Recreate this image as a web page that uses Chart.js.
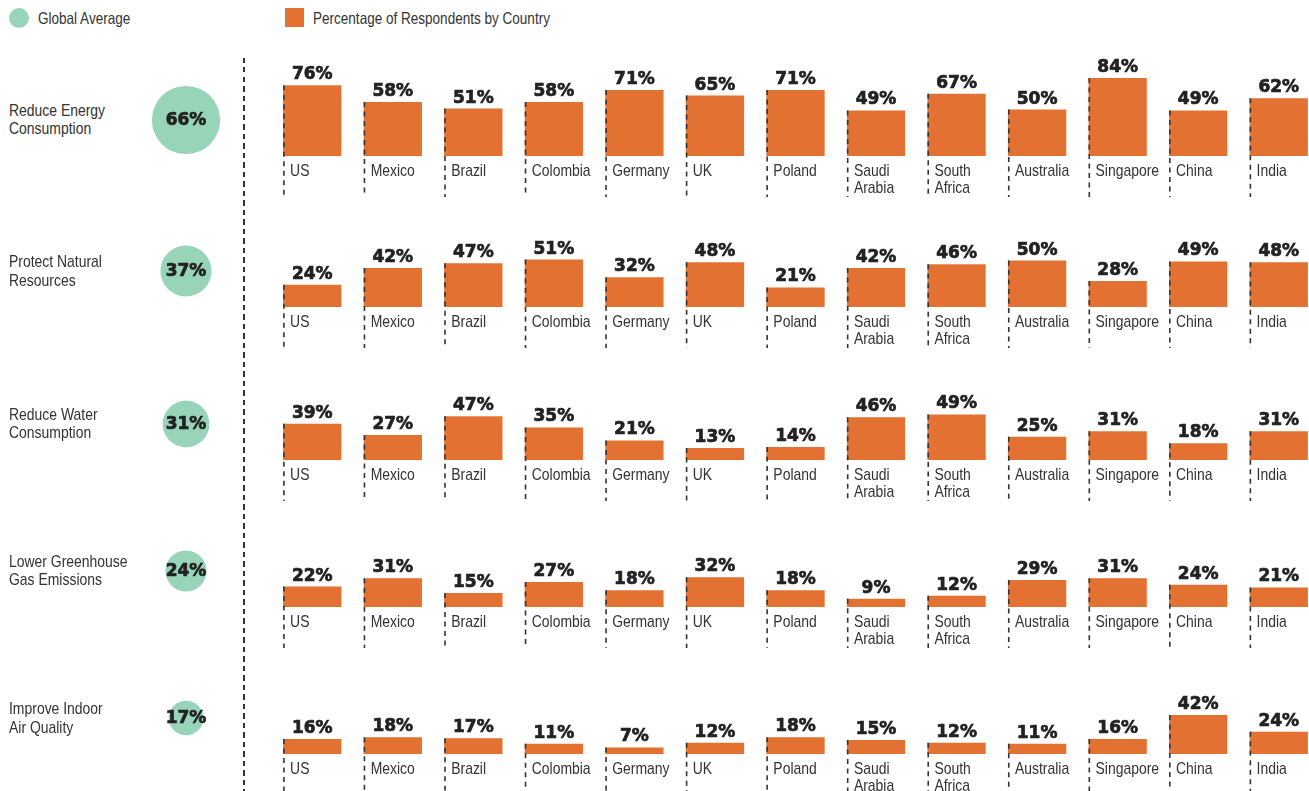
<!DOCTYPE html>
<html>
<head>
<meta charset="utf-8">
<script src="https://cdn.jsdelivr.net/npm/chart.js@4.4.1/dist/chart.umd.min.js"></script>
<style>
  html, body { margin: 0; padding: 0; background: #fff; overflow: hidden; }
  body {
    width: 1309px; height: 791px; position: relative;
    font-family: "Liberation Sans", Arial, sans-serif;
    color: #333;
  }
  .narrow { display: inline-block; transform: scaleX(0.82); transform-origin: 0 0; white-space: nowrap; }
  .legend-item { position: absolute; top: 8px; font-size: 16.5px; line-height: 20px; }
  .legend-dot { position: absolute; left: 9px; top: 8px; width: 20px; height: 20px; border-radius: 50%; background: #98d4b8; }
  .legend-box { position: absolute; left: 285px; top: 8px; width: 19px; height: 19px; background: #e37232; }
  .divider {
    position: absolute; left: 243px; top: 58px; width: 2px; height: 740px;
    background: repeating-linear-gradient(to bottom, #333 0 5px, transparent 5px 9.5px);
  }
  .row { position: absolute; left: 0; width: 1309px; height: 155px; }
  .row-label { position: absolute; left: 9px; top: 56px; font-size: 17px; line-height: 18.5px; }
  .row canvas { position: absolute; }
</style>
</head>
<body>
<div class="legend-dot"></div>
<div class="legend-item" style="left:38px"><span class="narrow">Global Average</span></div>
<div class="legend-box"></div>
<div class="legend-item" style="left:313px"><span class="narrow">Percentage of Respondents by Country</span></div>
<div class="divider"></div>
<div id="rows"></div>

<script>
const countries = ["US", "Mexico", "Brazil", "Colombia", "Germany", "UK", "Poland",
  ["Saudi", "Arabia"], ["South", "Africa"], "Australia", "Singapore", "China", "India"];

const goals = [
  ["Reduce Energy", "Consumption"],
  ["Protect Natural", "Resources"],
  ["Reduce Water", "Consumption"],
  ["Lower Greenhouse", "Gas Emissions"],
  ["Improve Indoor", "Air Quality"]
];

const globalAverage = [66, 37, 31, 24, 17];

const energy     = [76, 58, 51, 58, 71, 65, 71, 49, 67, 50, 84, 49, 62];
const resources  = [24, 42, 47, 51, 32, 48, 21, 42, 46, 50, 28, 49, 48];
const water      = [39, 27, 47, 35, 21, 13, 14, 46, 49, 25, 31, 18, 31];
const greenhouse = [22, 31, 15, 27, 18, 32, 18, 9, 12, 29, 31, 24, 21];
const indoor     = [16, 18, 17, 11, 7, 12, 18, 15, 12, 11, 16, 42, 24];

const rowValues = [energy, resources, water, greenhouse, indoor];

// layout
const baselines = [155.7, 307.3, 459.5, 606.5, 754.3];
const ORANGE = "#e37232";
const GREEN = "#98d4b8";
const TEXT = "#333";
const VALUE_FONT = "bold 17px 'DejaVu Sans', sans-serif";
const LABEL_FONT = "17px 'Liberation Sans', Arial, sans-serif";
const NARROW = 0.82;
const AREA_H = 110;
const PX_PER_PCT = 0.93;

function heavyText(ctx, text, x, y) {
  ctx.lineWidth = 0.7;
  ctx.strokeStyle = "#222";
  ctx.strokeText(text, x, y);
  ctx.fillText(text, x, y);
}

const barDecor = {
  id: "barDecor",
  afterDatasetsDraw(chart) {
    const ctx = chart.ctx;
    const meta = chart.getDatasetMeta(0);
    const values = chart.data.datasets[0].data;

    meta.data.forEach((bar, i) => {
      const p = bar.getProps(["x", "y", "base", "width"], true);
      const left = p.x - p.width / 2;

      ctx.save();
      ctx.strokeStyle = TEXT;
      ctx.lineWidth = 1.6;
      ctx.setLineDash([5, 4.5]);
      ctx.beginPath();
      ctx.moveTo(left + 0.8, p.y);
      ctx.lineTo(left + 0.8, p.base + 41);
      ctx.stroke();
      ctx.setLineDash([]);

      ctx.fillStyle = "#222";
      ctx.font = VALUE_FONT;
      ctx.textAlign = "center";
      ctx.textBaseline = "alphabetic";
      heavyText(ctx, values[i] + "%", p.x, p.y - 6);

      ctx.fillStyle = TEXT;
      ctx.font = LABEL_FONT;
      ctx.textAlign = "left";
      const lines = [].concat(chart.data.labels[i]);
      lines.forEach((line, k) => {
        ctx.save();
        ctx.translate(left + 7, p.base + 20 + k * 16.5);
        ctx.scale(NARROW, 1);
        ctx.fillText(line, 0, 0);
        ctx.restore();
      });
      ctx.restore();
    });
  }
};

const bubbleText = {
  id: "bubbleText",
  afterDatasetsDraw(chart) {
    const ctx = chart.ctx;
    const pt = chart.getDatasetMeta(0).data[0];
    ctx.save();
    ctx.fillStyle = "#222";
    ctx.font = VALUE_FONT;
    ctx.textAlign = "center";
    ctx.textBaseline = "middle";
    heavyText(ctx, chart.data.datasets[0].data[0].v + "%", pt.x, pt.y + 1);
    ctx.restore();
  }
};

const rowsEl = document.getElementById("rows");

goals.forEach((goal, r) => {
  const row = document.createElement("div");
  row.className = "row";
  row.style.top = (baselines[r] - AREA_H) + "px";

  const label = document.createElement("div");
  label.className = "row-label";
  label.innerHTML = goal.map(t => '<span class="narrow">' + t + '</span>').join("<br>");
  row.appendChild(label);

  const bubbleCanvas = document.createElement("canvas");
  bubbleCanvas.width = 120;
  bubbleCanvas.height = 120;
  bubbleCanvas.style.left = "126px";
  bubbleCanvas.style.top = "14px";
  row.appendChild(bubbleCanvas);

  const barCanvas = document.createElement("canvas");
  barCanvas.width = 1047;
  barCanvas.height = 155;
  barCanvas.style.left = "272px";
  barCanvas.style.top = "0px";
  row.appendChild(barCanvas);

  rowsEl.appendChild(row);

  new Chart(bubbleCanvas, {
    type: "bubble",
    data: {
      datasets: [{
        data: [{ x: 0, y: 0, v: globalAverage[r] }],
        backgroundColor: GREEN,
        borderWidth: 0,
        clip: false,
        radius: ctx => 4.2 * Math.sqrt(globalAverage[r])
      }]
    },
    options: {
      responsive: false,
      animation: false,
      devicePixelRatio: 1,
      layout: { padding: 0 },
      plugins: { legend: { display: false }, tooltip: { enabled: false } },
      scales: {
        x: { display: false, min: -1, max: 1 },
        y: { display: false, min: -1, max: 1 }
      }
    },
    plugins: [bubbleText]
  });

  new Chart(barCanvas, {
    type: "bar",
    data: {
      labels: countries,
      datasets: [{
        data: rowValues[r],
        backgroundColor: ORANGE,
        borderWidth: 0,
        categoryPercentage: 1,
        barPercentage: 0.724
      }]
    },
    options: {
      responsive: false,
      animation: false,
      devicePixelRatio: 1,
      layout: { padding: { top: 0, right: 0, bottom: 45, left: 0 } },
      plugins: { legend: { display: false }, tooltip: { enabled: false } },
      scales: {
        x: { display: false },
        y: { display: false, min: 0, max: AREA_H / PX_PER_PCT }
      }
    },
    plugins: [barDecor]
  });
});
</script>
</body>
</html>
